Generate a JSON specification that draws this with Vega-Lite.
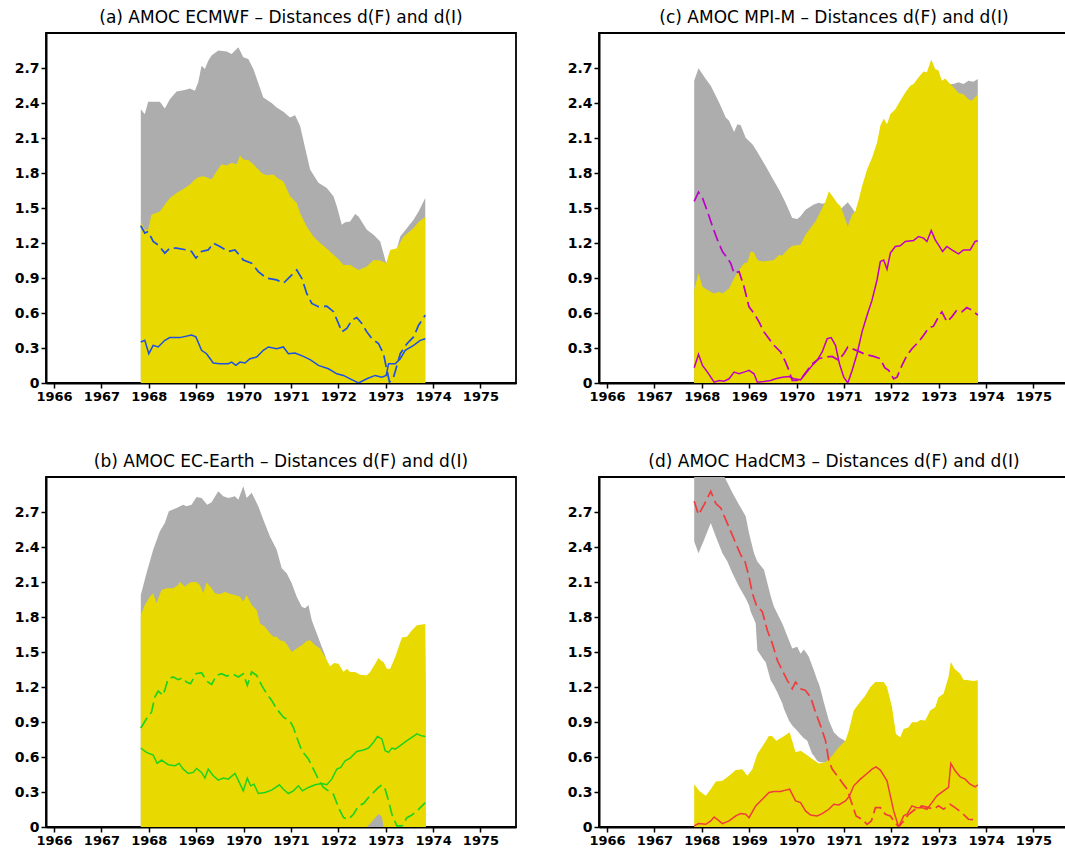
{
"$schema": "https://vega.github.io/schema/vega-lite/v6.json",
"background": "white",
"padding": {"left": 13, "top": 8, "right": 0, "bottom": 0},
"config": {
  "view": {"stroke": "black", "strokeWidth": 1.8},
  "font": "DejaVu Sans",
  "axis": {"grid": false, "domainColor": "black", "domainWidth": 2, "tickColor": "black", "tickWidth": 1.5, "tickSize": 5, "labelColor": "black", "labelFont": "DejaVu Sans", "labelFontWeight": "bold", "labelFontSize": 13, "labelPadding": 2, "labelOverlap": false, "title": null}
},
"data": {"values": [
{"p":"a","s":"g","t":1967.831,"lo":0,"hi":2.347},{"p":"a","s":"g","t":1967.915,"lo":0,"hi":2.304},{"p":"a","s":"g","t":1967.986,"lo":0,"hi":2.41},{"p":"a","s":"g","t":1968.233,"lo":0,"hi":2.41},{"p":"a","s":"g","t":1968.338,"lo":0,"hi":2.353},{"p":"a","s":"g","t":1968.444,"lo":0,"hi":2.433},{"p":"a","s":"g","t":1968.585,"lo":0,"hi":2.499},{"p":"a","s":"g","t":1968.761,"lo":0,"hi":2.511},{"p":"a","s":"g","t":1968.867,"lo":0,"hi":2.525},{"p":"a","s":"g","t":1968.973,"lo":0,"hi":2.505},{"p":"a","s":"g","t":1969.043,"lo":0,"hi":2.577},{"p":"a","s":"g","t":1969.113,"lo":0,"hi":2.72},{"p":"a","s":"g","t":1969.184,"lo":0,"hi":2.692},{"p":"a","s":"g","t":1969.254,"lo":0,"hi":2.763},{"p":"a","s":"g","t":1969.325,"lo":0,"hi":2.807},{"p":"a","s":"g","t":1969.466,"lo":0,"hi":2.85},{"p":"a","s":"g","t":1969.642,"lo":0,"hi":2.841},{"p":"a","s":"g","t":1969.748,"lo":0,"hi":2.821},{"p":"a","s":"g","t":1969.889,"lo":0,"hi":2.878},{"p":"a","s":"g","t":1969.994,"lo":0,"hi":2.792},{"p":"a","s":"g","t":1970.1,"lo":0,"hi":2.778},{"p":"a","s":"g","t":1970.206,"lo":0,"hi":2.692},{"p":"a","s":"g","t":1970.417,"lo":0,"hi":2.448},{"p":"a","s":"g","t":1970.593,"lo":0,"hi":2.399},{"p":"a","s":"g","t":1970.699,"lo":0,"hi":2.362},{"p":"a","s":"g","t":1970.84,"lo":0,"hi":2.324},{"p":"a","s":"g","t":1970.981,"lo":0,"hi":2.276},{"p":"a","s":"g","t":1971.087,"lo":0,"hi":2.296},{"p":"a","s":"g","t":1971.192,"lo":0,"hi":2.204},{"p":"a","s":"g","t":1971.404,"lo":0,"hi":1.83},{"p":"a","s":"g","t":1971.58,"lo":0,"hi":1.716},{"p":"a","s":"g","t":1971.756,"lo":0,"hi":1.672},{"p":"a","s":"g","t":1971.897,"lo":0,"hi":1.6},{"p":"a","s":"g","t":1971.968,"lo":0,"hi":1.514},{"p":"a","s":"g","t":1972.073,"lo":0,"hi":1.357},{"p":"a","s":"g","t":1972.144,"lo":0,"hi":1.377},{"p":"a","s":"g","t":1972.249,"lo":0,"hi":1.385},{"p":"a","s":"g","t":1972.355,"lo":0,"hi":1.448},{"p":"a","s":"g","t":1972.426,"lo":0,"hi":1.428},{"p":"a","s":"g","t":1972.602,"lo":0,"hi":1.314},{"p":"a","s":"g","t":1972.743,"lo":0,"hi":1.27},{"p":"a","s":"g","t":1972.884,"lo":0,"hi":1.213},{"p":"a","s":"g","t":1973.011,"lo":0,"hi":1.026},{"p":"a","s":"g","t":1973.095,"lo":0,"hi":1.1},{"p":"a","s":"g","t":1973.236,"lo":0,"hi":1.15},{"p":"a","s":"g","t":1973.307,"lo":0,"hi":1.256},{"p":"a","s":"g","t":1973.588,"lo":0,"hi":1.4},{"p":"a","s":"g","t":1973.694,"lo":0,"hi":1.471},{"p":"a","s":"g","t":1973.835,"lo":0,"hi":1.586},
{"p":"c","s":"g","t":1967.839,"lo":0,"hi":2.591},{"p":"c","s":"g","t":1967.93,"lo":0,"hi":2.697},{"p":"c","s":"g","t":1968.084,"lo":0,"hi":2.606},{"p":"c","s":"g","t":1968.189,"lo":0,"hi":2.548},{"p":"c","s":"g","t":1968.365,"lo":0,"hi":2.405},{"p":"c","s":"g","t":1968.505,"lo":0,"hi":2.276},{"p":"c","s":"g","t":1968.575,"lo":0,"hi":2.247},{"p":"c","s":"g","t":1968.681,"lo":0,"hi":2.152},{"p":"c","s":"g","t":1968.751,"lo":0,"hi":2.218},{"p":"c","s":"g","t":1968.821,"lo":0,"hi":2.21},{"p":"c","s":"g","t":1968.926,"lo":0,"hi":2.103},{"p":"c","s":"g","t":1969.067,"lo":0,"hi":2.046},{"p":"c","s":"g","t":1969.172,"lo":0,"hi":1.98},{"p":"c","s":"g","t":1969.347,"lo":0,"hi":1.859},{"p":"c","s":"g","t":1969.488,"lo":0,"hi":1.758},{"p":"c","s":"g","t":1969.628,"lo":0,"hi":1.658},{"p":"c","s":"g","t":1969.768,"lo":0,"hi":1.544},{"p":"c","s":"g","t":1969.909,"lo":0,"hi":1.414},{"p":"c","s":"g","t":1970.014,"lo":0,"hi":1.405},{"p":"c","s":"g","t":1970.084,"lo":0,"hi":1.429},{"p":"c","s":"g","t":1970.189,"lo":0,"hi":1.486},{"p":"c","s":"g","t":1970.365,"lo":0,"hi":1.529},{"p":"c","s":"g","t":1970.47,"lo":0,"hi":1.544},{"p":"c","s":"g","t":1970.54,"lo":0,"hi":1.537},{"p":"c","s":"g","t":1970.681,"lo":0,"hi":1.55},{"p":"c","s":"g","t":1970.821,"lo":0,"hi":1.52},{"p":"c","s":"g","t":1970.926,"lo":0,"hi":1.49},{"p":"c","s":"g","t":1971.081,"lo":0,"hi":1.549},{"p":"c","s":"g","t":1971.172,"lo":0,"hi":1.5},{"p":"c","s":"g","t":1971.242,"lo":0,"hi":1.457},{"p":"c","s":"g","t":1971.382,"lo":0,"hi":1.45},{"p":"c","s":"g","t":1971.874,"lo":0,"hi":1.8},{"p":"c","s":"g","t":1972.575,"lo":0,"hi":2.3},{"p":"c","s":"g","t":1972.996,"lo":0,"hi":2.55},{"p":"c","s":"g","t":1973.207,"lo":0,"hi":2.56},{"p":"c","s":"g","t":1973.312,"lo":0,"hi":2.562},{"p":"c","s":"g","t":1973.418,"lo":0,"hi":2.577},{"p":"c","s":"g","t":1973.523,"lo":0,"hi":2.562},{"p":"c","s":"g","t":1973.628,"lo":0,"hi":2.591},{"p":"c","s":"g","t":1973.733,"lo":0,"hi":2.583},{"p":"c","s":"g","t":1973.825,"lo":0,"hi":2.606},
{"p":"b","s":"g","t":1967.831,"lo":0,"hi":1.989},{"p":"b","s":"g","t":1967.951,"lo":0,"hi":2.175},{"p":"b","s":"g","t":1968.092,"lo":0,"hi":2.376},{"p":"b","s":"g","t":1968.233,"lo":0,"hi":2.534},{"p":"b","s":"g","t":1968.338,"lo":0,"hi":2.605},{"p":"b","s":"g","t":1968.423,"lo":0,"hi":2.706},{"p":"b","s":"g","t":1968.585,"lo":0,"hi":2.735},{"p":"b","s":"g","t":1968.726,"lo":0,"hi":2.763},{"p":"b","s":"g","t":1968.796,"lo":0,"hi":2.749},{"p":"b","s":"g","t":1968.902,"lo":0,"hi":2.763},{"p":"b","s":"g","t":1969.008,"lo":0,"hi":2.829},{"p":"b","s":"g","t":1969.113,"lo":0,"hi":2.821},{"p":"b","s":"g","t":1969.233,"lo":0,"hi":2.763},{"p":"b","s":"g","t":1969.325,"lo":0,"hi":2.783},{"p":"b","s":"g","t":1969.466,"lo":0,"hi":2.878},{"p":"b","s":"g","t":1969.572,"lo":0,"hi":2.835},{"p":"b","s":"g","t":1969.677,"lo":0,"hi":2.821},{"p":"b","s":"g","t":1969.818,"lo":0,"hi":2.835},{"p":"b","s":"g","t":1969.889,"lo":0,"hi":2.806},{"p":"b","s":"g","t":1969.994,"lo":0,"hi":2.921},{"p":"b","s":"g","t":1970.065,"lo":0,"hi":2.821},{"p":"b","s":"g","t":1970.171,"lo":0,"hi":2.864},{"p":"b","s":"g","t":1970.311,"lo":0,"hi":2.749},{"p":"b","s":"g","t":1970.417,"lo":0,"hi":2.634},{"p":"b","s":"g","t":1970.558,"lo":0,"hi":2.491},{"p":"b","s":"g","t":1970.699,"lo":0,"hi":2.376},{"p":"b","s":"g","t":1970.805,"lo":0,"hi":2.218},{"p":"b","s":"g","t":1970.91,"lo":0,"hi":2.175},{"p":"b","s":"g","t":1971.016,"lo":0,"hi":2.089},{"p":"b","s":"g","t":1971.122,"lo":0,"hi":1.974},{"p":"b","s":"g","t":1971.228,"lo":0,"hi":1.888},{"p":"b","s":"g","t":1971.298,"lo":0,"hi":1.874},{"p":"b","s":"g","t":1971.369,"lo":0,"hi":1.902},{"p":"b","s":"g","t":1971.439,"lo":0,"hi":1.773},{"p":"b","s":"g","t":1971.545,"lo":0,"hi":1.659},{"p":"b","s":"g","t":1971.65,"lo":0,"hi":1.544},{"p":"b","s":"g","t":1971.721,"lo":0,"hi":1.472},{"p":"b","s":"g","t":1971.827,"lo":0,"hi":1.3},{"p":"b","s":"g","t":1972.109,"lo":0,"hi":1.2},{"p":"b","s":"g","t":1972.672,"lo":0,"hi":1.1},{"p":"b","s":"g","t":1973.095,"lo":0,"hi":1.2},{"p":"b","s":"g","t":1973.835,"lo":0,"hi":1.2},
{"p":"d","s":"g","t":1967.839,"lo":2.448,"hi":3.2},{"p":"d","s":"g","t":1967.93,"lo":2.347,"hi":3.24},{"p":"d","s":"g","t":1968.049,"lo":2.462,"hi":3.28},{"p":"d","s":"g","t":1968.189,"lo":2.605,"hi":3.25},{"p":"d","s":"g","t":1968.295,"lo":2.491,"hi":3.15},{"p":"d","s":"g","t":1968.435,"lo":2.347,"hi":3.04},{"p":"d","s":"g","t":1968.54,"lo":2.275,"hi":2.95},{"p":"d","s":"g","t":1968.646,"lo":2.175,"hi":2.864},{"p":"d","s":"g","t":1968.786,"lo":2.06,"hi":2.763},{"p":"d","s":"g","t":1968.926,"lo":1.96,"hi":2.663},{"p":"d","s":"g","t":1968.996,"lo":1.9,"hi":2.519},{"p":"d","s":"g","t":1969.032,"lo":1.845,"hi":2.46},{"p":"d","s":"g","t":1969.102,"lo":1.78,"hi":2.347},{"p":"d","s":"g","t":1969.137,"lo":1.745,"hi":2.31},{"p":"d","s":"g","t":1969.172,"lo":1.515,"hi":2.275},{"p":"d","s":"g","t":1969.312,"lo":1.43,"hi":2.204},{"p":"d","s":"g","t":1969.347,"lo":1.415,"hi":2.15},{"p":"d","s":"g","t":1969.453,"lo":1.257,"hi":1.98},{"p":"d","s":"g","t":1969.523,"lo":1.21,"hi":1.888},{"p":"d","s":"g","t":1969.593,"lo":1.156,"hi":1.83},{"p":"d","s":"g","t":1969.698,"lo":1.06,"hi":1.745},{"p":"d","s":"g","t":1969.733,"lo":1.013,"hi":1.71},{"p":"d","s":"g","t":1969.839,"lo":0.912,"hi":1.601},{"p":"d","s":"g","t":1969.909,"lo":0.87,"hi":1.529},{"p":"d","s":"g","t":1970.014,"lo":0.826,"hi":1.544},{"p":"d","s":"g","t":1970.084,"lo":0.79,"hi":1.486},{"p":"d","s":"g","t":1970.154,"lo":0.76,"hi":1.521},{"p":"d","s":"g","t":1970.225,"lo":0.74,"hi":1.48},{"p":"d","s":"g","t":1970.26,"lo":0.7,"hi":1.458},{"p":"d","s":"g","t":1970.33,"lo":0.626,"hi":1.38},{"p":"d","s":"g","t":1970.365,"lo":0.61,"hi":1.343},{"p":"d","s":"g","t":1970.435,"lo":0.568,"hi":1.26},{"p":"d","s":"g","t":1970.47,"lo":0.56,"hi":1.228},{"p":"d","s":"g","t":1970.505,"lo":0.554,"hi":1.18},{"p":"d","s":"g","t":1970.575,"lo":0.552,"hi":1.07},{"p":"d","s":"g","t":1970.681,"lo":0.55,"hi":0.912},{"p":"d","s":"g","t":1970.786,"lo":0.565,"hi":0.812},{"p":"d","s":"g","t":1970.891,"lo":0.58,"hi":0.769},{"p":"d","s":"g","t":1971.018,"lo":0.62,"hi":0.74},{"p":"d","s":"g","t":1971.137,"lo":0.62,"hi":0.7},
{"p":"a","s":"y","t":1967.831,"lo":0,"hi":1.385},{"p":"a","s":"y","t":1967.915,"lo":0,"hi":1.314},{"p":"a","s":"y","t":1967.986,"lo":0,"hi":1.314},{"p":"a","s":"y","t":1968.056,"lo":0,"hi":1.443},{"p":"a","s":"y","t":1968.233,"lo":0,"hi":1.471},{"p":"a","s":"y","t":1968.338,"lo":0,"hi":1.529},{"p":"a","s":"y","t":1968.444,"lo":0,"hi":1.586},{"p":"a","s":"y","t":1968.585,"lo":0,"hi":1.629},{"p":"a","s":"y","t":1968.761,"lo":0,"hi":1.672},{"p":"a","s":"y","t":1968.867,"lo":0,"hi":1.701},{"p":"a","s":"y","t":1968.973,"lo":0,"hi":1.744},{"p":"a","s":"y","t":1969.043,"lo":0,"hi":1.764},{"p":"a","s":"y","t":1969.149,"lo":0,"hi":1.773},{"p":"a","s":"y","t":1969.254,"lo":0,"hi":1.758},{"p":"a","s":"y","t":1969.325,"lo":0,"hi":1.744},{"p":"a","s":"y","t":1969.431,"lo":0,"hi":1.816},{"p":"a","s":"y","t":1969.536,"lo":0,"hi":1.874},{"p":"a","s":"y","t":1969.642,"lo":0,"hi":1.865},{"p":"a","s":"y","t":1969.748,"lo":0,"hi":1.888},{"p":"a","s":"y","t":1969.853,"lo":0,"hi":1.874},{"p":"a","s":"y","t":1969.924,"lo":0,"hi":1.95},{"p":"a","s":"y","t":1969.994,"lo":0,"hi":1.916},{"p":"a","s":"y","t":1970.1,"lo":0,"hi":1.911},{"p":"a","s":"y","t":1970.206,"lo":0,"hi":1.874},{"p":"a","s":"y","t":1970.382,"lo":0,"hi":1.801},{"p":"a","s":"y","t":1970.488,"lo":0,"hi":1.781},{"p":"a","s":"y","t":1970.629,"lo":0,"hi":1.787},{"p":"a","s":"y","t":1970.734,"lo":0,"hi":1.75},{"p":"a","s":"y","t":1970.84,"lo":0,"hi":1.73},{"p":"a","s":"y","t":1970.981,"lo":0,"hi":1.6},{"p":"a","s":"y","t":1971.051,"lo":0,"hi":1.572},{"p":"a","s":"y","t":1971.122,"lo":0,"hi":1.543},{"p":"a","s":"y","t":1971.192,"lo":0,"hi":1.457},{"p":"a","s":"y","t":1971.333,"lo":0,"hi":1.342},{"p":"a","s":"y","t":1971.474,"lo":0,"hi":1.256},{"p":"a","s":"y","t":1971.615,"lo":0,"hi":1.199},{"p":"a","s":"y","t":1971.791,"lo":0,"hi":1.141},{"p":"a","s":"y","t":1971.897,"lo":0,"hi":1.099},{"p":"a","s":"y","t":1972.003,"lo":0,"hi":1.061},{"p":"a","s":"y","t":1972.109,"lo":0,"hi":1.012},{"p":"a","s":"y","t":1972.249,"lo":0,"hi":1.012},{"p":"a","s":"y","t":1972.426,"lo":0,"hi":0.969},{"p":"a","s":"y","t":1972.602,"lo":0,"hi":0.998},{"p":"a","s":"y","t":1972.743,"lo":0,"hi":1.055},{"p":"a","s":"y","t":1972.884,"lo":0,"hi":1.05},{"p":"a","s":"y","t":1973.011,"lo":0,"hi":1.026},{"p":"a","s":"y","t":1973.095,"lo":0,"hi":1.141},{"p":"a","s":"y","t":1973.236,"lo":0,"hi":1.156},{"p":"a","s":"y","t":1973.377,"lo":0,"hi":1.256},{"p":"a","s":"y","t":1973.448,"lo":0,"hi":1.279},{"p":"a","s":"y","t":1973.588,"lo":0,"hi":1.328},{"p":"a","s":"y","t":1973.694,"lo":0,"hi":1.38},{"p":"a","s":"y","t":1973.835,"lo":0,"hi":1.423},
{"p":"c","s":"y","t":1967.839,"lo":0,"hi":0.797},{"p":"c","s":"y","t":1967.93,"lo":0,"hi":0.94},{"p":"c","s":"y","t":1968.014,"lo":0,"hi":0.826},{"p":"c","s":"y","t":1968.119,"lo":0,"hi":0.797},{"p":"c","s":"y","t":1968.26,"lo":0,"hi":0.768},{"p":"c","s":"y","t":1968.365,"lo":0,"hi":0.782},{"p":"c","s":"y","t":1968.435,"lo":0,"hi":0.768},{"p":"c","s":"y","t":1968.575,"lo":0,"hi":0.811},{"p":"c","s":"y","t":1968.681,"lo":0,"hi":0.897},{"p":"c","s":"y","t":1968.786,"lo":0,"hi":0.969},{"p":"c","s":"y","t":1968.891,"lo":0,"hi":1.026},{"p":"c","s":"y","t":1968.961,"lo":0,"hi":1.032},{"p":"c","s":"y","t":1969.032,"lo":0,"hi":1.127},{"p":"c","s":"y","t":1969.102,"lo":0,"hi":1.118},{"p":"c","s":"y","t":1969.172,"lo":0,"hi":1.055},{"p":"c","s":"y","t":1969.277,"lo":0,"hi":1.041},{"p":"c","s":"y","t":1969.418,"lo":0,"hi":1.047},{"p":"c","s":"y","t":1969.523,"lo":0,"hi":1.055},{"p":"c","s":"y","t":1969.628,"lo":0,"hi":1.098},{"p":"c","s":"y","t":1969.698,"lo":0,"hi":1.093},{"p":"c","s":"y","t":1969.804,"lo":0,"hi":1.141},{"p":"c","s":"y","t":1969.909,"lo":0,"hi":1.176},{"p":"c","s":"y","t":1970.084,"lo":0,"hi":1.184},{"p":"c","s":"y","t":1970.189,"lo":0,"hi":1.27},{"p":"c","s":"y","t":1970.295,"lo":0,"hi":1.328},{"p":"c","s":"y","t":1970.4,"lo":0,"hi":1.385},{"p":"c","s":"y","t":1970.505,"lo":0,"hi":1.471},{"p":"c","s":"y","t":1970.611,"lo":0,"hi":1.558},{"p":"c","s":"y","t":1970.681,"lo":0,"hi":1.644},{"p":"c","s":"y","t":1970.786,"lo":0,"hi":1.586},{"p":"c","s":"y","t":1970.856,"lo":0,"hi":1.543},{"p":"c","s":"y","t":1970.926,"lo":0,"hi":1.514},{"p":"c","s":"y","t":1970.996,"lo":0,"hi":1.443},{"p":"c","s":"y","t":1971.081,"lo":0,"hi":1.342},{"p":"c","s":"y","t":1971.172,"lo":0,"hi":1.443},{"p":"c","s":"y","t":1971.242,"lo":0,"hi":1.472},{"p":"c","s":"y","t":1971.312,"lo":0,"hi":1.572},{"p":"c","s":"y","t":1971.382,"lo":0,"hi":1.687},{"p":"c","s":"y","t":1971.488,"lo":0,"hi":1.83},{"p":"c","s":"y","t":1971.593,"lo":0,"hi":1.931},{"p":"c","s":"y","t":1971.698,"lo":0,"hi":2.06},{"p":"c","s":"y","t":1971.768,"lo":0,"hi":2.204},{"p":"c","s":"y","t":1971.839,"lo":0,"hi":2.267},{"p":"c","s":"y","t":1971.909,"lo":0,"hi":2.218},{"p":"c","s":"y","t":1971.979,"lo":0,"hi":2.304},{"p":"c","s":"y","t":1972.084,"lo":0,"hi":2.347},{"p":"c","s":"y","t":1972.189,"lo":0,"hi":2.419},{"p":"c","s":"y","t":1972.295,"lo":0,"hi":2.491},{"p":"c","s":"y","t":1972.4,"lo":0,"hi":2.548},{"p":"c","s":"y","t":1972.47,"lo":0,"hi":2.562},{"p":"c","s":"y","t":1972.575,"lo":0,"hi":2.62},{"p":"c","s":"y","t":1972.681,"lo":0,"hi":2.669},{"p":"c","s":"y","t":1972.751,"lo":0,"hi":2.663},{"p":"c","s":"y","t":1972.842,"lo":0,"hi":2.772},{"p":"c","s":"y","t":1972.926,"lo":0,"hi":2.692},{"p":"c","s":"y","t":1972.996,"lo":0,"hi":2.678},{"p":"c","s":"y","t":1973.067,"lo":0,"hi":2.591},{"p":"c","s":"y","t":1973.137,"lo":0,"hi":2.611},{"p":"c","s":"y","t":1973.207,"lo":0,"hi":2.577},{"p":"c","s":"y","t":1973.312,"lo":0,"hi":2.534},{"p":"c","s":"y","t":1973.418,"lo":0,"hi":2.485},{"p":"c","s":"y","t":1973.523,"lo":0,"hi":2.476},{"p":"c","s":"y","t":1973.628,"lo":0,"hi":2.433},{"p":"c","s":"y","t":1973.698,"lo":0,"hi":2.419},{"p":"c","s":"y","t":1973.825,"lo":0,"hi":2.476},
{"p":"b","s":"y","t":1967.831,"lo":0,"hi":1.816},{"p":"b","s":"y","t":1967.915,"lo":0,"hi":1.902},{"p":"b","s":"y","t":1968.021,"lo":0,"hi":1.974},{"p":"b","s":"y","t":1968.092,"lo":0,"hi":2.003},{"p":"b","s":"y","t":1968.162,"lo":0,"hi":1.917},{"p":"b","s":"y","t":1968.268,"lo":0,"hi":2.032},{"p":"b","s":"y","t":1968.373,"lo":0,"hi":2.046},{"p":"b","s":"y","t":1968.514,"lo":0,"hi":2.046},{"p":"b","s":"y","t":1968.62,"lo":0,"hi":2.075},{"p":"b","s":"y","t":1968.655,"lo":0,"hi":2.103},{"p":"b","s":"y","t":1968.761,"lo":0,"hi":2.06},{"p":"b","s":"y","t":1968.867,"lo":0,"hi":2.095},{"p":"b","s":"y","t":1968.994,"lo":0,"hi":2.103},{"p":"b","s":"y","t":1969.078,"lo":0,"hi":2.075},{"p":"b","s":"y","t":1969.149,"lo":0,"hi":2.003},{"p":"b","s":"y","t":1969.219,"lo":0,"hi":2.095},{"p":"b","s":"y","t":1969.325,"lo":0,"hi":2.046},{"p":"b","s":"y","t":1969.395,"lo":0,"hi":2.003},{"p":"b","s":"y","t":1969.501,"lo":0,"hi":1.994},{"p":"b","s":"y","t":1969.607,"lo":0,"hi":2.017},{"p":"b","s":"y","t":1969.712,"lo":0,"hi":1.997},{"p":"b","s":"y","t":1969.818,"lo":0,"hi":1.989},{"p":"b","s":"y","t":1969.924,"lo":0,"hi":1.974},{"p":"b","s":"y","t":1969.994,"lo":0,"hi":1.931},{"p":"b","s":"y","t":1970.065,"lo":0,"hi":1.989},{"p":"b","s":"y","t":1970.171,"lo":0,"hi":1.902},{"p":"b","s":"y","t":1970.276,"lo":0,"hi":1.859},{"p":"b","s":"y","t":1970.347,"lo":0,"hi":1.745},{"p":"b","s":"y","t":1970.452,"lo":0,"hi":1.716},{"p":"b","s":"y","t":1970.558,"lo":0,"hi":1.659},{"p":"b","s":"y","t":1970.629,"lo":0,"hi":1.63},{"p":"b","s":"y","t":1970.699,"lo":0,"hi":1.63},{"p":"b","s":"y","t":1970.77,"lo":0,"hi":1.601},{"p":"b","s":"y","t":1970.875,"lo":0,"hi":1.587},{"p":"b","s":"y","t":1971.016,"lo":0,"hi":1.501},{"p":"b","s":"y","t":1971.122,"lo":0,"hi":1.529},{"p":"b","s":"y","t":1971.228,"lo":0,"hi":1.558},{"p":"b","s":"y","t":1971.333,"lo":0,"hi":1.595},{"p":"b","s":"y","t":1971.404,"lo":0,"hi":1.601},{"p":"b","s":"y","t":1971.51,"lo":0,"hi":1.558},{"p":"b","s":"y","t":1971.615,"lo":0,"hi":1.529},{"p":"b","s":"y","t":1971.721,"lo":0,"hi":1.458},{"p":"b","s":"y","t":1971.827,"lo":0,"hi":1.377},{"p":"b","s":"y","t":1971.911,"lo":0,"hi":1.406},{"p":"b","s":"y","t":1972.003,"lo":0,"hi":1.4},{"p":"b","s":"y","t":1972.109,"lo":0,"hi":1.329},{"p":"b","s":"y","t":1972.179,"lo":0,"hi":1.357},{"p":"b","s":"y","t":1972.249,"lo":0,"hi":1.329},{"p":"b","s":"y","t":1972.355,"lo":0,"hi":1.329},{"p":"b","s":"y","t":1972.461,"lo":0,"hi":1.306},{"p":"b","s":"y","t":1972.567,"lo":0,"hi":1.3},{"p":"b","s":"y","t":1972.602,"lo":0,"hi":1.3},{"p":"b","s":"y","t":1972.672,"lo":0.03,"hi":1.329},{"p":"b","s":"y","t":1972.778,"lo":0.08,"hi":1.4},{"p":"b","s":"y","t":1972.848,"lo":0.109,"hi":1.449},{"p":"b","s":"y","t":1972.919,"lo":0.09,"hi":1.42},{"p":"b","s":"y","t":1972.954,"lo":0,"hi":1.415},{"p":"b","s":"y","t":1973.025,"lo":0,"hi":1.357},{"p":"b","s":"y","t":1973.095,"lo":0,"hi":1.357},{"p":"b","s":"y","t":1973.201,"lo":0,"hi":1.458},{"p":"b","s":"y","t":1973.342,"lo":0,"hi":1.624},{"p":"b","s":"y","t":1973.448,"lo":0,"hi":1.63},{"p":"b","s":"y","t":1973.553,"lo":0,"hi":1.687},{"p":"b","s":"y","t":1973.659,"lo":0,"hi":1.73},{"p":"b","s":"y","t":1973.835,"lo":0,"hi":1.739},{"p":"b","s":"y","t":1973.849,"lo":0,"hi":1.228},
{"p":"d","s":"y","t":1967.839,"lo":0,"hi":0.367},{"p":"d","s":"y","t":1967.944,"lo":0,"hi":0.31},{"p":"d","s":"y","t":1968.084,"lo":0,"hi":0.267},{"p":"d","s":"y","t":1968.189,"lo":0,"hi":0.324},{"p":"d","s":"y","t":1968.295,"lo":0,"hi":0.39},{"p":"d","s":"y","t":1968.435,"lo":0,"hi":0.396},{"p":"d","s":"y","t":1968.575,"lo":0,"hi":0.439},{"p":"d","s":"y","t":1968.716,"lo":0,"hi":0.488},{"p":"d","s":"y","t":1968.856,"lo":0,"hi":0.494},{"p":"d","s":"y","t":1968.961,"lo":0,"hi":0.439},{"p":"d","s":"y","t":1969.067,"lo":0,"hi":0.496},{"p":"d","s":"y","t":1969.172,"lo":0,"hi":0.626},{"p":"d","s":"y","t":1969.312,"lo":0,"hi":0.712},{"p":"d","s":"y","t":1969.418,"lo":0,"hi":0.783},{"p":"d","s":"y","t":1969.488,"lo":0,"hi":0.778},{"p":"d","s":"y","t":1969.572,"lo":0,"hi":0.74},{"p":"d","s":"y","t":1969.698,"lo":0,"hi":0.769},{"p":"d","s":"y","t":1969.853,"lo":0,"hi":0.812},{"p":"d","s":"y","t":1969.979,"lo":0,"hi":0.64},{"p":"d","s":"y","t":1970.084,"lo":0,"hi":0.654},{"p":"d","s":"y","t":1970.189,"lo":0,"hi":0.626},{"p":"d","s":"y","t":1970.33,"lo":0,"hi":0.583},{"p":"d","s":"y","t":1970.47,"lo":0,"hi":0.545},{"p":"d","s":"y","t":1970.611,"lo":0,"hi":0.554},{"p":"d","s":"y","t":1970.751,"lo":0,"hi":0.611},{"p":"d","s":"y","t":1970.891,"lo":0,"hi":0.683},{"p":"d","s":"y","t":1971.032,"lo":0,"hi":0.74},{"p":"d","s":"y","t":1971.102,"lo":0,"hi":0.826},{"p":"d","s":"y","t":1971.207,"lo":0,"hi":0.999},{"p":"d","s":"y","t":1971.312,"lo":0,"hi":1.056},{"p":"d","s":"y","t":1971.453,"lo":0,"hi":1.128},{"p":"d","s":"y","t":1971.558,"lo":0,"hi":1.199},{"p":"d","s":"y","t":1971.663,"lo":0,"hi":1.242},{"p":"d","s":"y","t":1971.839,"lo":0,"hi":1.242},{"p":"d","s":"y","t":1971.909,"lo":0,"hi":1.199},{"p":"d","s":"y","t":1972.014,"lo":0,"hi":1.027},{"p":"d","s":"y","t":1972.098,"lo":0,"hi":0.798},{"p":"d","s":"y","t":1972.189,"lo":0,"hi":0.769},{"p":"d","s":"y","t":1972.26,"lo":0,"hi":0.841},{"p":"d","s":"y","t":1972.365,"lo":0,"hi":0.855},{"p":"d","s":"y","t":1972.435,"lo":0,"hi":0.898},{"p":"d","s":"y","t":1972.54,"lo":0,"hi":0.898},{"p":"d","s":"y","t":1972.611,"lo":0,"hi":0.918},{"p":"d","s":"y","t":1972.716,"lo":0,"hi":0.912},{"p":"d","s":"y","t":1972.821,"lo":0,"hi":0.999},{"p":"d","s":"y","t":1972.926,"lo":0,"hi":1.027},{"p":"d","s":"y","t":1972.996,"lo":0,"hi":1.113},{"p":"d","s":"y","t":1973.102,"lo":0,"hi":1.142},{"p":"d","s":"y","t":1973.207,"lo":0,"hi":1.286},{"p":"d","s":"y","t":1973.256,"lo":0,"hi":1.415},{"p":"d","s":"y","t":1973.333,"lo":0,"hi":1.357},{"p":"d","s":"y","t":1973.453,"lo":0,"hi":1.314},{"p":"d","s":"y","t":1973.523,"lo":0,"hi":1.263},{"p":"d","s":"y","t":1973.628,"lo":0,"hi":1.257},{"p":"d","s":"y","t":1973.733,"lo":0,"hi":1.251},{"p":"d","s":"y","t":1973.825,"lo":0,"hi":1.257},
{"p":"a","s":"d","t":1967.831,"v":1.348},{"p":"a","s":"d","t":1967.915,"v":1.285},{"p":"a","s":"d","t":1967.986,"v":1.299},{"p":"a","s":"d","t":1968.092,"v":1.213},{"p":"a","s":"d","t":1968.197,"v":1.184},{"p":"a","s":"d","t":1968.338,"v":1.113},{"p":"a","s":"d","t":1968.444,"v":1.156},{"p":"a","s":"d","t":1968.585,"v":1.156},{"p":"a","s":"d","t":1968.796,"v":1.141},{"p":"a","s":"d","t":1968.902,"v":1.127},{"p":"a","s":"d","t":1968.994,"v":1.07},{"p":"a","s":"d","t":1969.113,"v":1.127},{"p":"a","s":"d","t":1969.254,"v":1.141},{"p":"a","s":"d","t":1969.36,"v":1.199},{"p":"a","s":"d","t":1969.501,"v":1.17},{"p":"a","s":"d","t":1969.677,"v":1.127},{"p":"a","s":"d","t":1969.818,"v":1.141},{"p":"a","s":"d","t":1969.994,"v":1.055},{"p":"a","s":"d","t":1970.171,"v":1.026},{"p":"a","s":"d","t":1970.311,"v":0.955},{"p":"a","s":"d","t":1970.488,"v":0.898},{"p":"a","s":"d","t":1970.699,"v":0.884},{"p":"a","s":"d","t":1970.84,"v":0.855},{"p":"a","s":"d","t":1970.981,"v":0.912},{"p":"a","s":"d","t":1971.122,"v":0.969},{"p":"a","s":"d","t":1971.228,"v":0.898},{"p":"a","s":"d","t":1971.333,"v":0.768},{"p":"a","s":"d","t":1971.439,"v":0.682},{"p":"a","s":"d","t":1971.58,"v":0.654},{"p":"a","s":"d","t":1971.756,"v":0.659},{"p":"a","s":"d","t":1971.897,"v":0.611},{"p":"a","s":"d","t":1972.003,"v":0.51},{"p":"a","s":"d","t":1972.073,"v":0.438},{"p":"a","s":"d","t":1972.179,"v":0.467},{"p":"a","s":"d","t":1972.285,"v":0.538},{"p":"a","s":"d","t":1972.39,"v":0.561},{"p":"a","s":"d","t":1972.496,"v":0.51},{"p":"a","s":"d","t":1972.602,"v":0.438},{"p":"a","s":"d","t":1972.708,"v":0.38},{"p":"a","s":"d","t":1972.848,"v":0.337},{"p":"a","s":"d","t":1972.954,"v":0.251},{"p":"a","s":"d","t":1973.011,"v":0.136},{"p":"a","s":"d","t":1973.081,"v":0.007},{"p":"a","s":"d","t":1973.166,"v":0.05},{"p":"a","s":"d","t":1973.307,"v":0.251},{"p":"a","s":"d","t":1973.448,"v":0.337},{"p":"a","s":"d","t":1973.588,"v":0.395},{"p":"a","s":"d","t":1973.694,"v":0.495},{"p":"a","s":"d","t":1973.835,"v":0.582},
{"p":"c","s":"d","t":1967.839,"v":1.557},{"p":"c","s":"d","t":1967.93,"v":1.635},{"p":"c","s":"d","t":1968.014,"v":1.586},{"p":"c","s":"d","t":1968.119,"v":1.471},{"p":"c","s":"d","t":1968.225,"v":1.342},{"p":"c","s":"d","t":1968.33,"v":1.227},{"p":"c","s":"d","t":1968.435,"v":1.127},{"p":"c","s":"d","t":1968.54,"v":1.07},{"p":"c","s":"d","t":1968.611,"v":1.026},{"p":"c","s":"d","t":1968.681,"v":0.94},{"p":"c","s":"d","t":1968.786,"v":0.955},{"p":"c","s":"d","t":1968.891,"v":0.825},{"p":"c","s":"d","t":1968.996,"v":0.653},{"p":"c","s":"d","t":1969.102,"v":0.596},{"p":"c","s":"d","t":1969.207,"v":0.524},{"p":"c","s":"d","t":1969.312,"v":0.438},{"p":"c","s":"d","t":1969.418,"v":0.38},{"p":"c","s":"d","t":1969.523,"v":0.323},{"p":"c","s":"d","t":1969.663,"v":0.266},{"p":"c","s":"d","t":1969.768,"v":0.179},{"p":"c","s":"d","t":1969.839,"v":0.108},{"p":"c","s":"d","t":1969.909,"v":0.022},{"p":"c","s":"d","t":1970.014,"v":0.022},{"p":"c","s":"d","t":1970.119,"v":0.05},{"p":"c","s":"d","t":1970.225,"v":0.108},{"p":"c","s":"d","t":1970.33,"v":0.165},{"p":"c","s":"d","t":1970.47,"v":0.208},{"p":"c","s":"d","t":1970.611,"v":0.223},{"p":"c","s":"d","t":1970.751,"v":0.228},{"p":"c","s":"d","t":1970.891,"v":0.194},{"p":"c","s":"d","t":1970.996,"v":0.251},{"p":"c","s":"d","t":1971.081,"v":0.309},{"p":"c","s":"d","t":1971.172,"v":0.294},{"p":"c","s":"d","t":1971.312,"v":0.271},{"p":"c","s":"d","t":1971.453,"v":0.245},{"p":"c","s":"d","t":1971.628,"v":0.228},{"p":"c","s":"d","t":1971.768,"v":0.208},{"p":"c","s":"d","t":1971.86,"v":0.131},{"p":"c","s":"d","t":1971.944,"v":0.108},{"p":"c","s":"d","t":1972.049,"v":0.036},{"p":"c","s":"d","t":1972.119,"v":0.05},{"p":"c","s":"d","t":1972.225,"v":0.151},{"p":"c","s":"d","t":1972.33,"v":0.237},{"p":"c","s":"d","t":1972.435,"v":0.294},{"p":"c","s":"d","t":1972.575,"v":0.352},{"p":"c","s":"d","t":1972.681,"v":0.409},{"p":"c","s":"d","t":1972.786,"v":0.472},{"p":"c","s":"d","t":1972.891,"v":0.487},{"p":"c","s":"d","t":1972.996,"v":0.567},{"p":"c","s":"d","t":1973.067,"v":0.61},{"p":"c","s":"d","t":1973.172,"v":0.524},{"p":"c","s":"d","t":1973.277,"v":0.567},{"p":"c","s":"d","t":1973.382,"v":0.624},{"p":"c","s":"d","t":1973.488,"v":0.61},{"p":"c","s":"d","t":1973.593,"v":0.647},{"p":"c","s":"d","t":1973.698,"v":0.624},{"p":"c","s":"d","t":1973.825,"v":0.581},
{"p":"b","s":"d","t":1967.831,"v":0.849},{"p":"b","s":"d","t":1967.951,"v":0.927},{"p":"b","s":"d","t":1968.056,"v":0.984},{"p":"b","s":"d","t":1968.127,"v":1.113},{"p":"b","s":"d","t":1968.197,"v":1.165},{"p":"b","s":"d","t":1968.303,"v":1.128},{"p":"b","s":"d","t":1968.409,"v":1.271},{"p":"b","s":"d","t":1968.514,"v":1.286},{"p":"b","s":"d","t":1968.62,"v":1.263},{"p":"b","s":"d","t":1968.712,"v":1.28},{"p":"b","s":"d","t":1968.796,"v":1.242},{"p":"b","s":"d","t":1968.881,"v":1.228},{"p":"b","s":"d","t":1968.994,"v":1.314},{"p":"b","s":"d","t":1969.113,"v":1.323},{"p":"b","s":"d","t":1969.219,"v":1.251},{"p":"b","s":"d","t":1969.325,"v":1.222},{"p":"b","s":"d","t":1969.431,"v":1.3},{"p":"b","s":"d","t":1969.536,"v":1.314},{"p":"b","s":"d","t":1969.642,"v":1.294},{"p":"b","s":"d","t":1969.783,"v":1.309},{"p":"b","s":"d","t":1969.889,"v":1.286},{"p":"b","s":"d","t":1969.994,"v":1.314},{"p":"b","s":"d","t":1970.079,"v":1.214},{"p":"b","s":"d","t":1970.171,"v":1.329},{"p":"b","s":"d","t":1970.276,"v":1.3},{"p":"b","s":"d","t":1970.382,"v":1.214},{"p":"b","s":"d","t":1970.488,"v":1.142},{"p":"b","s":"d","t":1970.593,"v":1.085},{"p":"b","s":"d","t":1970.699,"v":1.013},{"p":"b","s":"d","t":1970.84,"v":0.941},{"p":"b","s":"d","t":1970.981,"v":0.907},{"p":"b","s":"d","t":1971.051,"v":0.855},{"p":"b","s":"d","t":1971.122,"v":0.769},{"p":"b","s":"d","t":1971.228,"v":0.654},{"p":"b","s":"d","t":1971.369,"v":0.583},{"p":"b","s":"d","t":1971.474,"v":0.496},{"p":"b","s":"d","t":1971.58,"v":0.41},{"p":"b","s":"d","t":1971.686,"v":0.339},{"p":"b","s":"d","t":1971.791,"v":0.31},{"p":"b","s":"d","t":1971.897,"v":0.281},{"p":"b","s":"d","t":1972.003,"v":0.166},{"p":"b","s":"d","t":1972.109,"v":0.08},{"p":"b","s":"d","t":1972.214,"v":0.066},{"p":"b","s":"d","t":1972.32,"v":0.109},{"p":"b","s":"d","t":1972.426,"v":0.181},{"p":"b","s":"d","t":1972.531,"v":0.201},{"p":"b","s":"d","t":1972.637,"v":0.253},{"p":"b","s":"d","t":1972.743,"v":0.296},{"p":"b","s":"d","t":1972.848,"v":0.339},{"p":"b","s":"d","t":1972.919,"v":0.362},{"p":"b","s":"d","t":1972.989,"v":0.324},{"p":"b","s":"d","t":1973.06,"v":0.224},{"p":"b","s":"d","t":1973.13,"v":0.109},{"p":"b","s":"d","t":1973.236,"v":0.009},{"p":"b","s":"d","t":1973.342,"v":0.009},{"p":"b","s":"d","t":1973.448,"v":0.08},{"p":"b","s":"d","t":1973.553,"v":0.103},{"p":"b","s":"d","t":1973.659,"v":0.138},{"p":"b","s":"d","t":1973.835,"v":0.209},
{"p":"d","s":"d","t":1967.839,"v":2.792},{"p":"d","s":"d","t":1967.93,"v":2.677},{"p":"d","s":"d","t":1968.049,"v":2.763},{"p":"d","s":"d","t":1968.189,"v":2.878},{"p":"d","s":"d","t":1968.295,"v":2.772},{"p":"d","s":"d","t":1968.4,"v":2.735},{"p":"d","s":"d","t":1968.505,"v":2.634},{"p":"d","s":"d","t":1968.611,"v":2.534},{"p":"d","s":"d","t":1968.716,"v":2.433},{"p":"d","s":"d","t":1968.821,"v":2.333},{"p":"d","s":"d","t":1968.912,"v":2.275},{"p":"d","s":"d","t":1968.996,"v":2.146},{"p":"d","s":"d","t":1969.067,"v":2.003},{"p":"d","s":"d","t":1969.151,"v":1.902},{"p":"d","s":"d","t":1969.277,"v":1.845},{"p":"d","s":"d","t":1969.382,"v":1.687},{"p":"d","s":"d","t":1969.488,"v":1.572},{"p":"d","s":"d","t":1969.593,"v":1.429},{"p":"d","s":"d","t":1969.698,"v":1.343},{"p":"d","s":"d","t":1969.804,"v":1.257},{"p":"d","s":"d","t":1969.909,"v":1.185},{"p":"d","s":"d","t":1969.979,"v":1.242},{"p":"d","s":"d","t":1970.084,"v":1.185},{"p":"d","s":"d","t":1970.189,"v":1.171},{"p":"d","s":"d","t":1970.295,"v":1.113},{"p":"d","s":"d","t":1970.4,"v":0.984},{"p":"d","s":"d","t":1970.505,"v":0.869},{"p":"d","s":"d","t":1970.611,"v":0.74},{"p":"d","s":"d","t":1970.681,"v":0.568},{"p":"d","s":"d","t":1970.751,"v":0.496},{"p":"d","s":"d","t":1970.856,"v":0.439},{"p":"d","s":"d","t":1970.961,"v":0.382},{"p":"d","s":"d","t":1971.067,"v":0.324},{"p":"d","s":"d","t":1971.172,"v":0.195},{"p":"d","s":"d","t":1971.256,"v":0.095},{"p":"d","s":"d","t":1971.382,"v":0.066},{"p":"d","s":"d","t":1971.488,"v":0.023},{"p":"d","s":"d","t":1971.579,"v":0.052},{"p":"d","s":"d","t":1971.663,"v":0.166},{"p":"d","s":"d","t":1971.768,"v":0.166},{"p":"d","s":"d","t":1971.874,"v":0.109},{"p":"d","s":"d","t":1971.979,"v":0.095},{"p":"d","s":"d","t":1972.084,"v":0.037},{"p":"d","s":"d","t":1972.154,"v":0.0},{"p":"d","s":"d","t":1972.26,"v":0.052},{"p":"d","s":"d","t":1972.365,"v":0.109},{"p":"d","s":"d","t":1972.505,"v":0.152},{"p":"d","s":"d","t":1972.646,"v":0.181},{"p":"d","s":"d","t":1972.786,"v":0.166},{"p":"d","s":"d","t":1972.891,"v":0.152},{"p":"d","s":"d","t":1972.996,"v":0.181},{"p":"d","s":"d","t":1973.102,"v":0.152},{"p":"d","s":"d","t":1973.242,"v":0.195},{"p":"d","s":"d","t":1973.347,"v":0.166},{"p":"d","s":"d","t":1973.488,"v":0.123},{"p":"d","s":"d","t":1973.628,"v":0.066},{"p":"d","s":"d","t":1973.825,"v":0.06},
{"p":"a","s":"s","t":1967.831,"v":0.352},{"p":"a","s":"s","t":1967.915,"v":0.366},{"p":"a","s":"s","t":1968.0,"v":0.251},{"p":"a","s":"s","t":1968.092,"v":0.323},{"p":"a","s":"s","t":1968.197,"v":0.309},{"p":"a","s":"s","t":1968.338,"v":0.366},{"p":"a","s":"s","t":1968.444,"v":0.389},{"p":"a","s":"s","t":1968.655,"v":0.389},{"p":"a","s":"s","t":1968.902,"v":0.411},{"p":"a","s":"s","t":1968.994,"v":0.395},{"p":"a","s":"s","t":1969.113,"v":0.28},{"p":"a","s":"s","t":1969.219,"v":0.251},{"p":"a","s":"s","t":1969.36,"v":0.171},{"p":"a","s":"s","t":1969.501,"v":0.165},{"p":"a","s":"s","t":1969.677,"v":0.165},{"p":"a","s":"s","t":1969.748,"v":0.179},{"p":"a","s":"s","t":1969.839,"v":0.151},{"p":"a","s":"s","t":1969.924,"v":0.179},{"p":"a","s":"s","t":1970.03,"v":0.171},{"p":"a","s":"s","t":1970.135,"v":0.208},{"p":"a","s":"s","t":1970.276,"v":0.223},{"p":"a","s":"s","t":1970.417,"v":0.28},{"p":"a","s":"s","t":1970.523,"v":0.309},{"p":"a","s":"s","t":1970.699,"v":0.294},{"p":"a","s":"s","t":1970.84,"v":0.309},{"p":"a","s":"s","t":1970.946,"v":0.251},{"p":"a","s":"s","t":1971.087,"v":0.257},{"p":"a","s":"s","t":1971.263,"v":0.228},{"p":"a","s":"s","t":1971.404,"v":0.2},{"p":"a","s":"s","t":1971.58,"v":0.151},{"p":"a","s":"s","t":1971.791,"v":0.122},{"p":"a","s":"s","t":1971.968,"v":0.079},{"p":"a","s":"s","t":1972.109,"v":0.065},{"p":"a","s":"s","t":1972.249,"v":0.036},{"p":"a","s":"s","t":1972.426,"v":0.0},{"p":"a","s":"s","t":1972.602,"v":0.036},{"p":"a","s":"s","t":1972.778,"v":0.065},{"p":"a","s":"s","t":1972.919,"v":0.05},{"p":"a","s":"s","t":1973.011,"v":0.065},{"p":"a","s":"s","t":1973.06,"v":0.165},{"p":"a","s":"s","t":1973.201,"v":0.165},{"p":"a","s":"s","t":1973.307,"v":0.208},{"p":"a","s":"s","t":1973.412,"v":0.28},{"p":"a","s":"s","t":1973.588,"v":0.323},{"p":"a","s":"s","t":1973.729,"v":0.366},{"p":"a","s":"s","t":1973.835,"v":0.38},
{"p":"c","s":"s","t":1967.839,"v":0.131},{"p":"c","s":"s","t":1967.93,"v":0.245},{"p":"c","s":"s","t":1968.014,"v":0.151},{"p":"c","s":"s","t":1968.119,"v":0.093},{"p":"c","s":"s","t":1968.26,"v":0.007},{"p":"c","s":"s","t":1968.365,"v":0.022},{"p":"c","s":"s","t":1968.47,"v":0.016},{"p":"c","s":"s","t":1968.575,"v":0.036},{"p":"c","s":"s","t":1968.681,"v":0.093},{"p":"c","s":"s","t":1968.786,"v":0.079},{"p":"c","s":"s","t":1968.891,"v":0.093},{"p":"c","s":"s","t":1968.996,"v":0.108},{"p":"c","s":"s","t":1969.102,"v":0.079},{"p":"c","s":"s","t":1969.172,"v":0.007},{"p":"c","s":"s","t":1969.312,"v":0.013},{"p":"c","s":"s","t":1969.453,"v":0.022},{"p":"c","s":"s","t":1969.558,"v":0.036},{"p":"c","s":"s","t":1969.698,"v":0.05},{"p":"c","s":"s","t":1969.839,"v":0.056},{"p":"c","s":"s","t":1969.944,"v":0.036},{"p":"c","s":"s","t":1970.084,"v":0.027},{"p":"c","s":"s","t":1970.189,"v":0.079},{"p":"c","s":"s","t":1970.33,"v":0.151},{"p":"c","s":"s","t":1970.435,"v":0.194},{"p":"c","s":"s","t":1970.54,"v":0.266},{"p":"c","s":"s","t":1970.646,"v":0.38},{"p":"c","s":"s","t":1970.73,"v":0.389},{"p":"c","s":"s","t":1970.821,"v":0.323},{"p":"c","s":"s","t":1970.905,"v":0.165},{"p":"c","s":"s","t":1970.996,"v":0.05},{"p":"c","s":"s","t":1971.081,"v":0.0},{"p":"c","s":"s","t":1971.172,"v":0.108},{"p":"c","s":"s","t":1971.277,"v":0.251},{"p":"c","s":"s","t":1971.382,"v":0.438},{"p":"c","s":"s","t":1971.488,"v":0.581},{"p":"c","s":"s","t":1971.593,"v":0.71},{"p":"c","s":"s","t":1971.698,"v":0.883},{"p":"c","s":"s","t":1971.768,"v":1.041},{"p":"c","s":"s","t":1971.839,"v":1.055},{"p":"c","s":"s","t":1971.909,"v":0.975},{"p":"c","s":"s","t":1971.979,"v":1.113},{"p":"c","s":"s","t":1972.084,"v":1.17},{"p":"c","s":"s","t":1972.189,"v":1.176},{"p":"c","s":"s","t":1972.295,"v":1.213},{"p":"c","s":"s","t":1972.47,"v":1.222},{"p":"c","s":"s","t":1972.575,"v":1.256},{"p":"c","s":"s","t":1972.681,"v":1.242},{"p":"c","s":"s","t":1972.751,"v":1.213},{"p":"c","s":"s","t":1972.842,"v":1.307},{"p":"c","s":"s","t":1972.926,"v":1.227},{"p":"c","s":"s","t":1972.996,"v":1.184},{"p":"c","s":"s","t":1973.081,"v":1.127},{"p":"c","s":"s","t":1973.172,"v":1.17},{"p":"c","s":"s","t":1973.277,"v":1.141},{"p":"c","s":"s","t":1973.418,"v":1.107},{"p":"c","s":"s","t":1973.523,"v":1.141},{"p":"c","s":"s","t":1973.663,"v":1.141},{"p":"c","s":"s","t":1973.768,"v":1.213},{"p":"c","s":"s","t":1973.825,"v":1.219},
{"p":"b","s":"s","t":1967.831,"v":0.677},{"p":"b","s":"s","t":1967.951,"v":0.64},{"p":"b","s":"s","t":1968.092,"v":0.617},{"p":"b","s":"s","t":1968.176,"v":0.545},{"p":"b","s":"s","t":1968.268,"v":0.574},{"p":"b","s":"s","t":1968.409,"v":0.534},{"p":"b","s":"s","t":1968.55,"v":0.525},{"p":"b","s":"s","t":1968.641,"v":0.545},{"p":"b","s":"s","t":1968.726,"v":0.496},{"p":"b","s":"s","t":1968.832,"v":0.459},{"p":"b","s":"s","t":1968.937,"v":0.468},{"p":"b","s":"s","t":1969.008,"v":0.502},{"p":"b","s":"s","t":1969.113,"v":0.468},{"p":"b","s":"s","t":1969.184,"v":0.419},{"p":"b","s":"s","t":1969.254,"v":0.496},{"p":"b","s":"s","t":1969.36,"v":0.439},{"p":"b","s":"s","t":1969.466,"v":0.402},{"p":"b","s":"s","t":1969.572,"v":0.419},{"p":"b","s":"s","t":1969.677,"v":0.41},{"p":"b","s":"s","t":1969.818,"v":0.459},{"p":"b","s":"s","t":1969.91,"v":0.382},{"p":"b","s":"s","t":1969.994,"v":0.31},{"p":"b","s":"s","t":1970.079,"v":0.419},{"p":"b","s":"s","t":1970.149,"v":0.353},{"p":"b","s":"s","t":1970.22,"v":0.367},{"p":"b","s":"s","t":1970.311,"v":0.287},{"p":"b","s":"s","t":1970.452,"v":0.296},{"p":"b","s":"s","t":1970.593,"v":0.316},{"p":"b","s":"s","t":1970.755,"v":0.362},{"p":"b","s":"s","t":1970.84,"v":0.324},{"p":"b","s":"s","t":1970.946,"v":0.287},{"p":"b","s":"s","t":1971.051,"v":0.31},{"p":"b","s":"s","t":1971.157,"v":0.353},{"p":"b","s":"s","t":1971.242,"v":0.31},{"p":"b","s":"s","t":1971.369,"v":0.339},{"p":"b","s":"s","t":1971.51,"v":0.362},{"p":"b","s":"s","t":1971.65,"v":0.373},{"p":"b","s":"s","t":1971.756,"v":0.362},{"p":"b","s":"s","t":1971.862,"v":0.41},{"p":"b","s":"s","t":1971.968,"v":0.496},{"p":"b","s":"s","t":1972.052,"v":0.511},{"p":"b","s":"s","t":1972.144,"v":0.568},{"p":"b","s":"s","t":1972.249,"v":0.591},{"p":"b","s":"s","t":1972.39,"v":0.648},{"p":"b","s":"s","t":1972.531,"v":0.66},{"p":"b","s":"s","t":1972.637,"v":0.677},{"p":"b","s":"s","t":1972.743,"v":0.726},{"p":"b","s":"s","t":1972.827,"v":0.775},{"p":"b","s":"s","t":1972.919,"v":0.755},{"p":"b","s":"s","t":1972.989,"v":0.654},{"p":"b","s":"s","t":1973.06,"v":0.64},{"p":"b","s":"s","t":1973.13,"v":0.677},{"p":"b","s":"s","t":1973.201,"v":0.668},{"p":"b","s":"s","t":1973.307,"v":0.697},{"p":"b","s":"s","t":1973.448,"v":0.74},{"p":"b","s":"s","t":1973.553,"v":0.769},{"p":"b","s":"s","t":1973.659,"v":0.798},{"p":"b","s":"s","t":1973.743,"v":0.783},{"p":"b","s":"s","t":1973.835,"v":0.775},
{"p":"d","s":"s","t":1967.839,"v":0.009},{"p":"d","s":"s","t":1967.93,"v":0.029},{"p":"d","s":"s","t":1968.084,"v":0.023},{"p":"d","s":"s","t":1968.189,"v":0.052},{"p":"d","s":"s","t":1968.26,"v":0.086},{"p":"d","s":"s","t":1968.365,"v":0.052},{"p":"d","s":"s","t":1968.435,"v":0.029},{"p":"d","s":"s","t":1968.575,"v":0.052},{"p":"d","s":"s","t":1968.716,"v":0.095},{"p":"d","s":"s","t":1968.821,"v":0.115},{"p":"d","s":"s","t":1968.926,"v":0.109},{"p":"d","s":"s","t":1968.996,"v":0.08},{"p":"d","s":"s","t":1969.137,"v":0.181},{"p":"d","s":"s","t":1969.277,"v":0.238},{"p":"d","s":"s","t":1969.418,"v":0.296},{"p":"d","s":"s","t":1969.523,"v":0.304},{"p":"d","s":"s","t":1969.663,"v":0.304},{"p":"d","s":"s","t":1969.768,"v":0.316},{"p":"d","s":"s","t":1969.853,"v":0.324},{"p":"d","s":"s","t":1969.979,"v":0.224},{"p":"d","s":"s","t":1970.084,"v":0.209},{"p":"d","s":"s","t":1970.189,"v":0.138},{"p":"d","s":"s","t":1970.295,"v":0.103},{"p":"d","s":"s","t":1970.435,"v":0.095},{"p":"d","s":"s","t":1970.54,"v":0.115},{"p":"d","s":"s","t":1970.681,"v":0.152},{"p":"d","s":"s","t":1970.786,"v":0.195},{"p":"d","s":"s","t":1970.891,"v":0.189},{"p":"d","s":"s","t":1971.032,"v":0.224},{"p":"d","s":"s","t":1971.116,"v":0.267},{"p":"d","s":"s","t":1971.207,"v":0.353},{"p":"d","s":"s","t":1971.347,"v":0.41},{"p":"d","s":"s","t":1971.488,"v":0.459},{"p":"d","s":"s","t":1971.593,"v":0.496},{"p":"d","s":"s","t":1971.677,"v":0.516},{"p":"d","s":"s","t":1971.768,"v":0.488},{"p":"d","s":"s","t":1971.909,"v":0.396},{"p":"d","s":"s","t":1971.979,"v":0.267},{"p":"d","s":"s","t":1972.049,"v":0.138},{"p":"d","s":"s","t":1972.154,"v":0.0},{"p":"d","s":"s","t":1972.26,"v":0.095},{"p":"d","s":"s","t":1972.33,"v":0.109},{"p":"d","s":"s","t":1972.435,"v":0.181},{"p":"d","s":"s","t":1972.54,"v":0.166},{"p":"d","s":"s","t":1972.646,"v":0.166},{"p":"d","s":"s","t":1972.751,"v":0.152},{"p":"d","s":"s","t":1972.856,"v":0.209},{"p":"d","s":"s","t":1972.961,"v":0.267},{"p":"d","s":"s","t":1973.102,"v":0.31},{"p":"d","s":"s","t":1973.207,"v":0.339},{"p":"d","s":"s","t":1973.256,"v":0.545},{"p":"d","s":"s","t":1973.347,"v":0.482},{"p":"d","s":"s","t":1973.453,"v":0.43},{"p":"d","s":"s","t":1973.558,"v":0.41},{"p":"d","s":"s","t":1973.663,"v":0.367},{"p":"d","s":"s","t":1973.768,"v":0.344},{"p":"d","s":"s","t":1973.825,"v":0.362}
]},
"facet": {"field": "p", "type": "nominal", "sort": ["a","c","b","d"], "header": {"title": null, "labelExpr": "{'a':'(a) AMOC ECMWF – Distances d(F) and d(I)','b':'(b) AMOC EC-Earth – Distances d(F) and d(I)','c':'(c) AMOC MPI-M – Distances d(F) and d(I)','d':'(d) AMOC HadCM3 – Distances d(F) and d(I)'}[datum.value]", "labelFont": "DejaVu Sans", "labelFontSize": 17, "labelColor": "black", "labelPadding": 6}},
"columns": 2,
"spacing": {"column": 49, "row": 48},
"resolve": {"axis": {"x": "independent", "y": "independent"}},
"spec": {
  "width": 470,
  "height": 350,
  "layer": [
    {"transform": [{"filter": "datum.s == 'g'"}], "mark": {"type": "area", "color": "#ADADAD", "clip": true},
     "encoding": {
       "x": {"field": "t", "type": "quantitative", "scale": {"domain": [1965.83, 1975.75], "nice": false, "zero": false}, "axis": {"values": [1966,1967,1968,1969,1970,1971,1972,1973,1974,1975], "tickCount": 12, "format": "d"}},
       "y": {"field": "hi", "type": "quantitative", "scale": {"domain": [0, 3], "nice": false}, "axis": {"values": [0,0.3,0.6,0.9,1.2,1.5,1.8,2.1,2.4,2.7], "tickCount": 12, "labelFontSize": 14, "labelExpr": "datum.value == 0 ? '0' : format(datum.value, '.1f')"}},
       "y2": {"field": "lo"}}},
    {"transform": [{"filter": "datum.s == 'y'"}], "mark": {"type": "area", "color": "#E8DA00", "clip": true},
     "encoding": {"x": {"field": "t", "type": "quantitative"}, "y": {"field": "hi", "type": "quantitative"}, "y2": {"field": "lo"}}},
    {"transform": [{"filter": "datum.s == 'd'"}], "mark": {"type": "line", "strokeWidth": 1.7, "strokeDash": [12, 5], "clip": true},
     "encoding": {"x": {"field": "t", "type": "quantitative"}, "y": {"field": "v", "type": "quantitative"},
       "color": {"field": "p", "type": "nominal", "scale": {"domain": ["a","b","c","d"], "range": ["#1E50E6","#1ED21E","#BE00C8","#F03C3C"]}, "legend": null}}},
    {"transform": [{"filter": "datum.s == 's'"}], "mark": {"type": "line", "strokeWidth": 1.5, "clip": true},
     "encoding": {"x": {"field": "t", "type": "quantitative"}, "y": {"field": "v", "type": "quantitative"},
       "color": {"field": "p", "type": "nominal", "legend": null}}}
  ]
}
}
